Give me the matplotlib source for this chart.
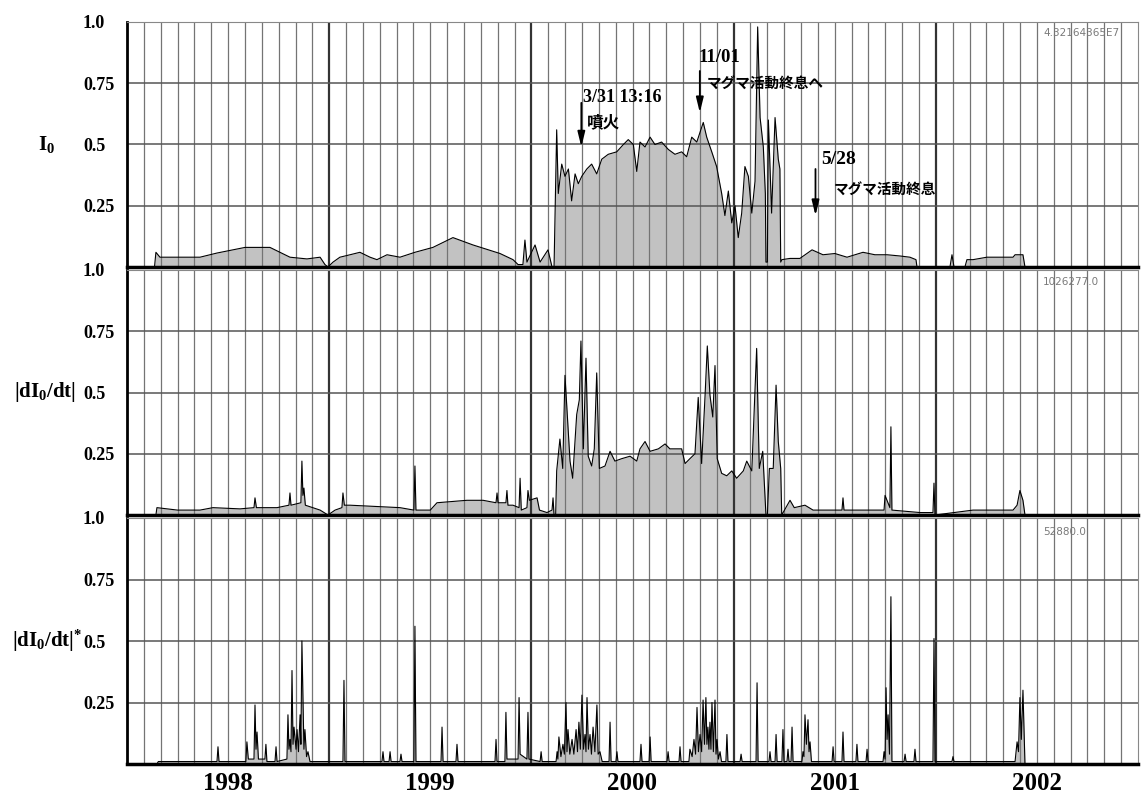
import numpy as np
import matplotlib
matplotlib.use('Agg')
import matplotlib.pyplot as plt

# time in decimal years, values normalised to 0..1
i0 = [
    (1998.000, 0.0), (1998.136, 0.0), (1998.143, 0.06), (1998.163, 0.04), (1998.361, 0.04),
    (1998.445, 0.057), (1998.584, 0.08), (1998.707, 0.08), (1998.806, 0.04), (1998.890, 0.033),
    (1998.955, 0.04), (1998.979, 0.01), (1998.994, 0.0), (1999.019, 0.02), (1999.053, 0.04),
    (1999.103, 0.05), (1999.152, 0.06), (1999.202, 0.04), (1999.236, 0.03), (1999.286, 0.05),
    (1999.350, 0.04), (1999.424, 0.06), (1999.513, 0.08), (1999.612, 0.12), (1999.711, 0.09),
    (1999.845, 0.055), (1999.909, 0.03), (1999.934, 0.01), (1999.958, 0.01), (1999.968, 0.11),
    (1999.978, 0.02), (2000.018, 0.09), (2000.043, 0.02), (2000.082, 0.07), (2000.102, 0.0),
    (2000.112, 0.0), (2000.125, 0.56), (2000.133, 0.30), (2000.150, 0.42), (2000.166, 0.37),
    (2000.183, 0.40), (2000.199, 0.27), (2000.216, 0.38), (2000.232, 0.34), (2000.249, 0.37),
    (2000.274, 0.40), (2000.298, 0.42), (2000.323, 0.38), (2000.348, 0.44), (2000.380, 0.46),
    (2000.422, 0.47), (2000.455, 0.50), (2000.479, 0.52), (2000.504, 0.50), (2000.521, 0.39),
    (2000.537, 0.51), (2000.562, 0.49), (2000.587, 0.53), (2000.611, 0.50), (2000.644, 0.51),
    (2000.677, 0.48), (2000.710, 0.46), (2000.743, 0.47), (2000.768, 0.45), (2000.793, 0.53),
    (2000.818, 0.51), (2000.850, 0.59), (2000.867, 0.53), (2000.892, 0.47), (2000.916, 0.41),
    (2000.941, 0.30), (2000.957, 0.21), (2000.974, 0.31), (2000.991, 0.18), (2001.007, 0.25),
    (2001.023, 0.12), (2001.040, 0.22), (2001.056, 0.41), (2001.073, 0.37), (2001.090, 0.22),
    (2001.106, 0.35), (2001.119, 0.98), (2001.131, 0.61), (2001.147, 0.49), (2001.157, 0.30),
    (2001.160, 0.02), (2001.167, 0.02), (2001.172, 0.60), (2001.188, 0.22), (2001.205, 0.61),
    (2001.221, 0.44), (2001.229, 0.40), (2001.233, 0.02), (2001.239, 0.03), (2001.279, 0.035),
    (2001.328, 0.035), (2001.388, 0.07), (2001.442, 0.05), (2001.501, 0.055), (2001.561, 0.04),
    (2001.640, 0.06), (2001.699, 0.05), (2001.759, 0.05), (2001.823, 0.045), (2001.872, 0.04),
    (2001.902, 0.03), (2001.907, 0.0), (2002.070, 0.0), (2002.080, 0.05), (2002.090, 0.0),
    (2002.144, 0.0), (2002.154, 0.03), (2002.184, 0.03), (2002.253, 0.04), (2002.318, 0.04),
    (2002.382, 0.04), (2002.392, 0.05), (2002.431, 0.05), (2002.441, 0.0), (2003.000, 0.0),
]

di0 = [
    (1998.000, 0.0), (1998.143, 0.0), (1998.148, 0.03), (1998.250, 0.02), (1998.361, 0.02),
    (1998.425, 0.03), (1998.559, 0.025), (1998.628, 0.03), (1998.633, 0.07), (1998.640, 0.03),
    (1998.742, 0.03), (1998.801, 0.04), (1998.806, 0.09), (1998.811, 0.04), (1998.860, 0.05),
    (1998.865, 0.22), (1998.870, 0.08), (1998.875, 0.11), (1998.882, 0.04), (1998.955, 0.02),
    (1998.994, 0.0), (1999.029, 0.02), (1999.063, 0.03), (1999.068, 0.09), (1999.075, 0.04),
    (1999.103, 0.04), (1999.350, 0.03), (1999.419, 0.02), (1999.424, 0.20), (1999.429, 0.02),
    (1999.500, 0.02), (1999.533, 0.05), (1999.681, 0.06), (1999.761, 0.06), (1999.825, 0.05),
    (1999.830, 0.09), (1999.835, 0.05), (1999.874, 0.05), (1999.879, 0.10), (1999.884, 0.04),
    (1999.909, 0.04), (1999.939, 0.03), (1999.944, 0.15), (1999.950, 0.02), (1999.978, 0.03),
    (1999.983, 0.10), (1999.990, 0.06), (2000.028, 0.07), (2000.040, 0.02), (2000.077, 0.01),
    (2000.102, 0.02), (2000.107, 0.07), (2000.112, 0.0), (2000.120, 0.0), (2000.125, 0.18),
    (2000.141, 0.31), (2000.155, 0.19), (2000.166, 0.57), (2000.178, 0.40), (2000.191, 0.22),
    (2000.204, 0.15), (2000.224, 0.41), (2000.237, 0.47), (2000.245, 0.71), (2000.257, 0.27),
    (2000.270, 0.64), (2000.281, 0.24), (2000.298, 0.20), (2000.311, 0.27), (2000.323, 0.58),
    (2000.336, 0.19), (2000.364, 0.20), (2000.389, 0.26), (2000.413, 0.22), (2000.447, 0.23),
    (2000.488, 0.24), (2000.521, 0.22), (2000.537, 0.27), (2000.562, 0.30), (2000.587, 0.26),
    (2000.628, 0.27), (2000.661, 0.29), (2000.685, 0.27), (2000.719, 0.27), (2000.743, 0.27),
    (2000.760, 0.21), (2000.784, 0.23), (2000.809, 0.25), (2000.825, 0.48), (2000.842, 0.21),
    (2000.859, 0.49), (2000.870, 0.69), (2000.883, 0.49), (2000.897, 0.40), (2000.908, 0.61),
    (2000.919, 0.23), (2000.941, 0.17), (2000.966, 0.16), (2000.991, 0.18), (2001.015, 0.15),
    (2001.048, 0.18), (2001.065, 0.22), (2001.090, 0.18), (2001.114, 0.68), (2001.127, 0.19),
    (2001.144, 0.26), (2001.160, 0.0), (2001.167, 0.0), (2001.177, 0.19), (2001.196, 0.19),
    (2001.210, 0.53), (2001.221, 0.30), (2001.233, 0.19), (2001.238, 0.0), (2001.279, 0.06),
    (2001.300, 0.03), (2001.353, 0.04), (2001.393, 0.02), (2001.536, 0.02), (2001.541, 0.07),
    (2001.546, 0.02), (2001.744, 0.02), (2001.749, 0.08), (2001.773, 0.03), (2001.778, 0.36),
    (2001.783, 0.02), (2001.922, 0.01), (2001.986, 0.01), (2001.991, 0.13), (2001.996, 0.0),
    (2002.184, 0.02), (2002.382, 0.02), (2002.402, 0.04), (2002.416, 0.10), (2002.431, 0.06),
    (2002.441, 0.0), (2003.000, 0.0),
]

di0_star = [
    (1998.000, 0.0), (1998.148, 0.0), (1998.155, 0.01), (1998.445, 0.01), (1998.450, 0.07),
    (1998.455, 0.01), (1998.588, 0.01), (1998.593, 0.09), (1998.600, 0.02), (1998.628, 0.02),
    (1998.633, 0.24), (1998.638, 0.06), (1998.643, 0.13), (1998.650, 0.02), (1998.682, 0.02),
    (1998.687, 0.08), (1998.692, 0.01), (1998.732, 0.01), (1998.737, 0.07), (1998.742, 0.01),
    (1998.791, 0.02), (1998.796, 0.20), (1998.801, 0.06), (1998.806, 0.10), (1998.811, 0.05),
    (1998.816, 0.38), (1998.821, 0.08), (1998.826, 0.15), (1998.836, 0.06), (1998.841, 0.14),
    (1998.848, 0.05), (1998.856, 0.20), (1998.860, 0.08), (1998.865, 0.50), (1998.870, 0.28),
    (1998.875, 0.06), (1998.880, 0.14), (1998.888, 0.03), (1998.895, 0.05), (1998.905, 0.01),
    (1999.068, 0.01), (1999.073, 0.34), (1999.078, 0.01), (1999.261, 0.01), (1999.266, 0.05),
    (1999.271, 0.01), (1999.296, 0.01), (1999.301, 0.05), (1999.306, 0.01), (1999.350, 0.01),
    (1999.355, 0.04), (1999.360, 0.01), (1999.419, 0.01), (1999.424, 0.56), (1999.429, 0.01),
    (1999.553, 0.01), (1999.558, 0.15), (1999.563, 0.01), (1999.627, 0.01), (1999.632, 0.08),
    (1999.637, 0.01), (1999.820, 0.01), (1999.825, 0.10), (1999.830, 0.01), (1999.869, 0.01),
    (1999.874, 0.21), (1999.879, 0.02), (1999.934, 0.02), (1999.939, 0.27), (1999.944, 0.04),
    (1999.978, 0.02), (1999.983, 0.21), (1999.988, 0.02), (2000.043, 0.01), (2000.048, 0.05),
    (2000.053, 0.01), (2000.122, 0.01), (2000.127, 0.05), (2000.131, 0.02), (2000.136, 0.11),
    (2000.146, 0.03), (2000.156, 0.08), (2000.163, 0.04), (2000.171, 0.25), (2000.176, 0.05),
    (2000.181, 0.14), (2000.190, 0.04), (2000.201, 0.10), (2000.210, 0.04), (2000.221, 0.14),
    (2000.228, 0.05), (2000.235, 0.17), (2000.242, 0.06), (2000.250, 0.28), (2000.258, 0.06),
    (2000.265, 0.12), (2000.270, 0.05), (2000.275, 0.27), (2000.282, 0.06), (2000.290, 0.12),
    (2000.297, 0.04), (2000.305, 0.15), (2000.314, 0.05), (2000.324, 0.24), (2000.330, 0.04),
    (2000.339, 0.05), (2000.350, 0.01), (2000.384, 0.01), (2000.389, 0.17), (2000.394, 0.01),
    (2000.418, 0.01), (2000.423, 0.05), (2000.428, 0.01), (2000.537, 0.01), (2000.542, 0.08),
    (2000.547, 0.01), (2000.582, 0.01), (2000.587, 0.11), (2000.592, 0.01), (2000.671, 0.01),
    (2000.676, 0.05), (2000.681, 0.01), (2000.730, 0.01), (2000.735, 0.07), (2000.740, 0.01),
    (2000.779, 0.01), (2000.784, 0.06), (2000.795, 0.03), (2000.804, 0.10), (2000.812, 0.04),
    (2000.819, 0.23), (2000.826, 0.05), (2000.834, 0.12), (2000.842, 0.05), (2000.849, 0.26),
    (2000.856, 0.08), (2000.863, 0.27), (2000.868, 0.08), (2000.873, 0.15), (2000.878, 0.06),
    (2000.883, 0.17), (2000.888, 0.06), (2000.893, 0.25), (2000.900, 0.05), (2000.908, 0.26),
    (2000.913, 0.04), (2000.918, 0.10), (2000.925, 0.02), (2000.933, 0.05), (2000.940, 0.01),
    (2000.962, 0.01), (2000.967, 0.12), (2000.972, 0.01), (2001.032, 0.01), (2001.037, 0.04),
    (2001.042, 0.01), (2001.111, 0.01), (2001.116, 0.33), (2001.121, 0.01), (2001.175, 0.01),
    (2001.180, 0.05), (2001.185, 0.01), (2001.205, 0.01), (2001.210, 0.12), (2001.215, 0.01),
    (2001.239, 0.01), (2001.244, 0.14), (2001.249, 0.01), (2001.264, 0.01), (2001.269, 0.06),
    (2001.274, 0.01), (2001.284, 0.01), (2001.289, 0.15), (2001.294, 0.01), (2001.338, 0.01),
    (2001.343, 0.05), (2001.348, 0.03), (2001.353, 0.20), (2001.360, 0.08), (2001.368, 0.18),
    (2001.373, 0.05), (2001.378, 0.09), (2001.385, 0.01), (2001.487, 0.01), (2001.492, 0.07),
    (2001.497, 0.01), (2001.536, 0.01), (2001.541, 0.13), (2001.546, 0.01), (2001.605, 0.01),
    (2001.610, 0.08), (2001.615, 0.01), (2001.655, 0.01), (2001.660, 0.06), (2001.665, 0.01),
    (2001.739, 0.01), (2001.744, 0.05), (2001.749, 0.02), (2001.754, 0.31), (2001.759, 0.10),
    (2001.764, 0.20), (2001.771, 0.04), (2001.778, 0.68), (2001.783, 0.01), (2001.843, 0.01),
    (2001.848, 0.04), (2001.853, 0.01), (2001.892, 0.01), (2001.897, 0.06), (2001.902, 0.01),
    (2001.986, 0.01), (2001.991, 0.51), (2001.996, 0.01), (2002.080, 0.01), (2002.085, 0.03),
    (2002.090, 0.01), (2002.392, 0.01), (2002.402, 0.09), (2002.409, 0.05), (2002.416, 0.27),
    (2002.423, 0.10), (2002.431, 0.30), (2002.441, 0.0), (2003.000, 0.0),
]

years = [1998, 1999, 2000, 2001, 2002]
ylabels = [r'$\mathbf{I_0}$', r'$\mathbf{|dI_0/dt|}$', r'$\mathbf{|dI_0/dt|^{*}}$']
maxvals = ['4.32164365E7', '1026277.0', '52880.0']
ytick_vals = [0.25, 0.5, 0.75, 1.0]
ytick_txt = ['0.25', '0.5', '0.75', '1.0']

# events: date (decimal year), date text, note
eruption = (2000.247, '3/31 13:16', '噴火')
magma1 = (2000.833, '11/01', 'マグマ活動終息へ')
magma2 = (2001.405, '5/28', 'マグマ活動終息')

plt.rcParams['mathtext.fontset'] = 'custom'
plt.rcParams['mathtext.rm'] = 'Liberation Serif:bold'
plt.rcParams['mathtext.bf'] = 'Liberation Serif:bold'
plt.rcParams['mathtext.it'] = 'Liberation Serif:bold'

serif = dict(fontfamily='Liberation Serif', fontweight='bold')
jp = dict(fontfamily=['Noto Sans CJK JP', 'DejaVu Sans'], fontweight='bold')

fig = plt.figure(figsize=(11.43, 8.06), dpi=100)
W, H = 1143, 806
boxes = [(22, 267), (270, 515), (518, 764)]
axes = [fig.add_axes([127 / W, 1 - b / H, 1011 / W, (b - t) / H]) for t, b in boxes]

lab_x = [-0.071, -0.051, -0.044]
max_y = [0.955, 0.951, 0.943]
months = [y + m / 12 for y in years for m in range(1, 12)]

for k, (ax, data) in enumerate(zip(axes, [i0, di0, di0_star])):
    t, v = np.array(data).T
    ax.fill_between(t, 0, v, color='#c2c2c2', lw=0, zorder=1)
    ax.plot(t, v, color='black', lw=0.8, zorder=3)
    ax.set_xlim(1998, 2003)
    ax.set_ylim(0, 1)
    for m in months:
        ax.axvline(m, color='#747474', lw=0.9, zorder=2)
    for y in years[1:]:
        ax.axvline(y, color='#333333', lw=1.6, zorder=2)
    for h in [0.25, 0.5, 0.75]:
        ax.axhline(h, color='#555555', lw=1.1, zorder=2)
    ax.set_yticks(ytick_vals)
    ax.set_yticklabels(ytick_txt, fontsize=13, ha='left', **serif)
    ax.tick_params(axis='y', length=0, pad=31.7)
    ax.spines['left'].set_linewidth(2)
    ax.spines['bottom'].set_linewidth(2.5)
    for s in ['top', 'right']:
        ax.spines[s].set_color('#888888')
        ax.spines[s].set_linewidth(0.8)
    ax.text(lab_x[k], 0.5, ylabels[k], transform=ax.transAxes, ha='right',
            va='center', fontsize=15)
    ax.text(0.906, max_y[k], maxvals[k], transform=ax.transAxes, ha='left',
            va='center', fontsize=7.5, color='#7a7a7a')
    if k < 2:
        ax.set_xticks([])

axes[2].set_xticks([y + 0.5 for y in years])
axes[2].set_xticklabels([str(y) for y in years], fontsize=18, **serif)
axes[2].tick_params(axis='x', length=0, pad=6)

ax1 = axes[0]
arrow = dict(arrowstyle='-|>,head_length=0.9,head_width=0.22', color='black',
             lw=1.3, shrinkA=0, shrinkB=0)

ax1.annotate('', xy=(eruption[0], 0.49), xytext=(eruption[0], 0.67), arrowprops=arrow, zorder=5)
ax1.text(eruption[0] + 0.008, 0.69, eruption[1], ha='left', va='center', fontsize=13, **serif)
ax1.text(eruption[0] + 0.025, 0.59, eruption[2], ha='left', va='center', fontsize=12, **jp)

ax1.annotate('', xy=(magma1[0], 0.63), xytext=(magma1[0], 0.80), arrowprops=arrow, zorder=5)
ax1.text(magma1[0] - 0.009, 0.855, magma1[1], ha='left', va='center', fontsize=13.5, **serif)
ax1.text(magma1[0] + 0.035, 0.75, magma1[2], ha='left', va='center', fontsize=10.5, **jp)

ax1.annotate('', xy=(magma2[0], 0.21), xytext=(magma2[0], 0.40), arrowprops=arrow, zorder=5)
ax1.text(magma2[0] + 0.027, 0.44, magma2[1], ha='left', va='center', fontsize=14, **serif)
ax1.text(magma2[0] + 0.092, 0.32, magma2[2], ha='left', va='center', fontsize=10.5, **jp)

fig.savefig('out.png', dpi=100)
